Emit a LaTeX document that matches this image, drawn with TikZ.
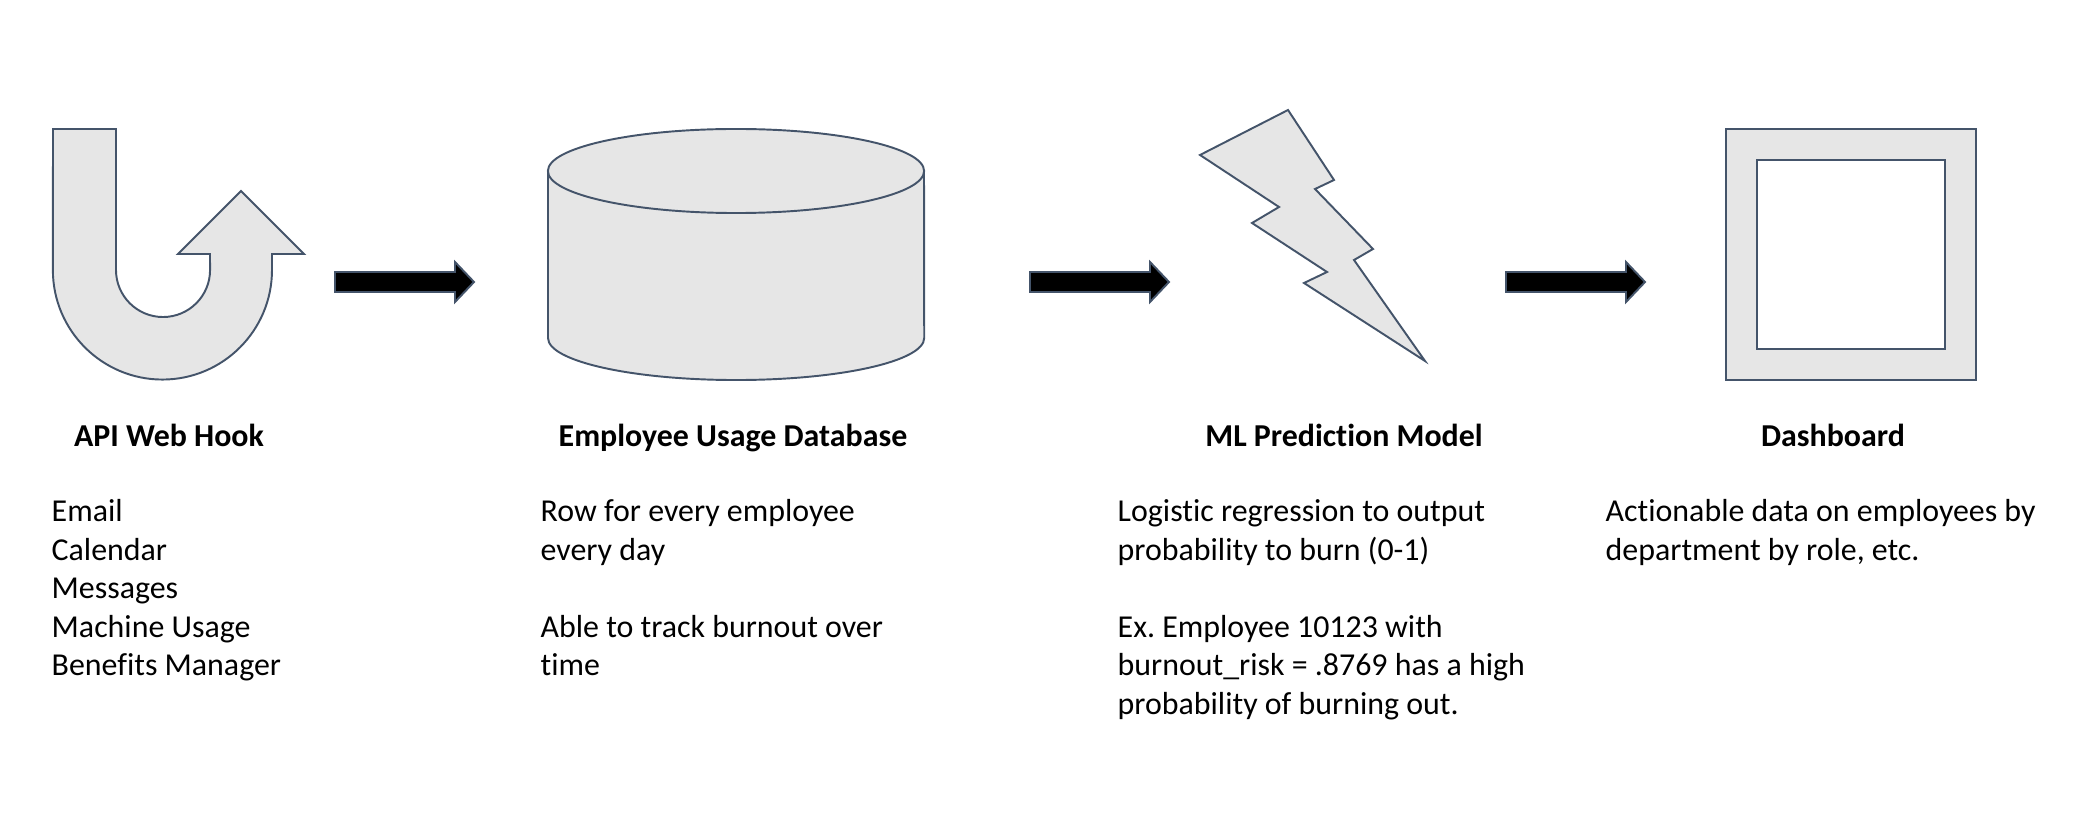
\documentclass[tikz,border=0pt]{standalone}
\usepackage{fontspec}
\setmainfont{Carlito}[Ligatures=NoCommon]
\frenchspacing
\usepackage{tikz}
\definecolor{shapefill}{HTML}{E6E6E6}
\definecolor{shapeedge}{HTML}{44546A}
\tikzset{
	iconshape/.style={draw=shapeedge, fill=shapefill, line width=0.55pt, line join=miter},
	flowarrow/.style={draw=shapeedge, fill=black, line width=0.55pt},
	titletext/.style={inner sep=0pt, anchor=base, font=\fontsize{9.07}{10.95}\selectfont\bfseries},
	bodytext/.style={inner sep=0pt, anchor=north west, align=left, font=\fontsize{9.07}{10.95}\selectfont}
}

\begin{document}
\begin{tikzpicture}[x=0.01cm, y=-0.01cm]
	\useasboundingbox (0,0) rectangle (2082,840);

	% web hook
	\draw[iconshape] (53,129) -- (116,129) -- (116,270) arc[start angle=180, end angle=360, radius=0.47cm] -- (210,254) -- (178,254) -- (241,191) -- (304,254) -- (272,254) -- (272,270) arc[start angle=0, end angle=-180, radius=1.095cm] -- cycle;
	\draw[flowarrow] (335,272) -- (455,272) -- (455,262) -- (474,282) -- (455,302) -- (455,292) -- (335,292) -- cycle;

	% database
	\draw[iconshape] (548,171) -- (548,338) arc[start angle=180, end angle=360, x radius=1.88cm, y radius=0.42cm] -- (924,171);
	\draw[iconshape] (736,171) ellipse [x radius=1.88cm, y radius=0.42cm];
	\draw[flowarrow] (1030,272) -- (1150,272) -- (1150,262) -- (1169,282) -- (1150,302) -- (1150,292) -- (1030,292) -- cycle;

	% model
	\draw[iconshape] (1288,110) -- (1334,180) -- (1315,189) -- (1373,249) -- (1354,260) -- (1425,361) -- (1304,283) -- (1327,272) -- (1252,223) -- (1279,207) -- (1200,155) -- cycle;
	\draw[flowarrow] (1506,272) -- (1626,272) -- (1626,262) -- (1645,282) -- (1626,302) -- (1626,292) -- (1506,292) -- cycle;

	% dashboard
	\draw[iconshape, even odd rule] (1726,129) rectangle (1976,380) (1757,160) rectangle (1945,349);

	\node[titletext] (hooktitle) at (169,446) {API Web Hook};
	\node[titletext] (dbtitle) at (733,446) {Employee Usage Database};
	\node[titletext] (modeltitle) at (1344,446) {ML Prediction Model};
	\node[titletext] (dashtitle) at (1833,446) {Dashboard};

	\node[bodytext] (hookbody) at (51,499) {Email\\Calendar\\Messages\\Machine Usage\\Benefits Manager};
	\node[bodytext] (dbbody) at (540,499) {Row for every employee\\every day\\[10.95pt]Able to track burnout over\\time};
	\node[bodytext] (modelbody) at (1117,499) {Logistic regression to output\\probability to burn (0-1)\\[10.95pt]Ex. Employee 10123 with\\burnout\_risk = .8769 has a high\\probability of burning out.};
	\node[bodytext] (dashbody) at (1605,499) {Actionable data on employees by\\department by role, etc.};
\end{tikzpicture}
\end{document}
